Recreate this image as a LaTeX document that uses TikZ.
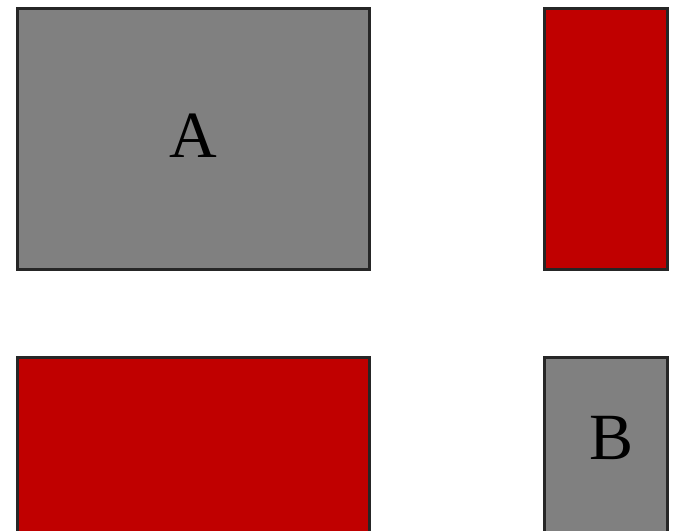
\documentclass[tikz,border=0pt]{standalone}
\usepackage{fontspec}
\setmainfont{Liberation Serif}
\definecolor{boxgray}{HTML}{808080}
\definecolor{boxred}{HTML}{C00000}
\definecolor{edge}{HTML}{262626}
\begin{document}
\begin{tikzpicture}[x=1pt,y=-1pt,
  blk/.style={draw=edge,line width=3pt,inner sep=0pt,font=\fontsize{66}{66}\selectfont},
  grayblk/.style={blk,fill=boxgray},
  redblk/.style={blk,fill=boxred}]
\useasboundingbox (0,0) rectangle (677,530);
\clip (0,0) rectangle (677,530);
\node[grayblk,minimum width=352pt,minimum height=261pt] (a) at (193.5,138.5) {};
\node (al) at (193.5,136) [font=\fontsize{66}{66}\selectfont] {A};
\node[redblk,minimum width=123pt,minimum height=261pt] (r1) at (606,138.5) {};
\node[redblk,minimum width=352pt,minimum height=261pt] (r2) at (193.5,488) {};
\node[grayblk,minimum width=123pt,minimum height=261pt] (b) at (606,488) {};
\node[font=\fontsize{66}{66}\selectfont] (bl) at (612,438) {B};
\end{tikzpicture}
\end{document}
